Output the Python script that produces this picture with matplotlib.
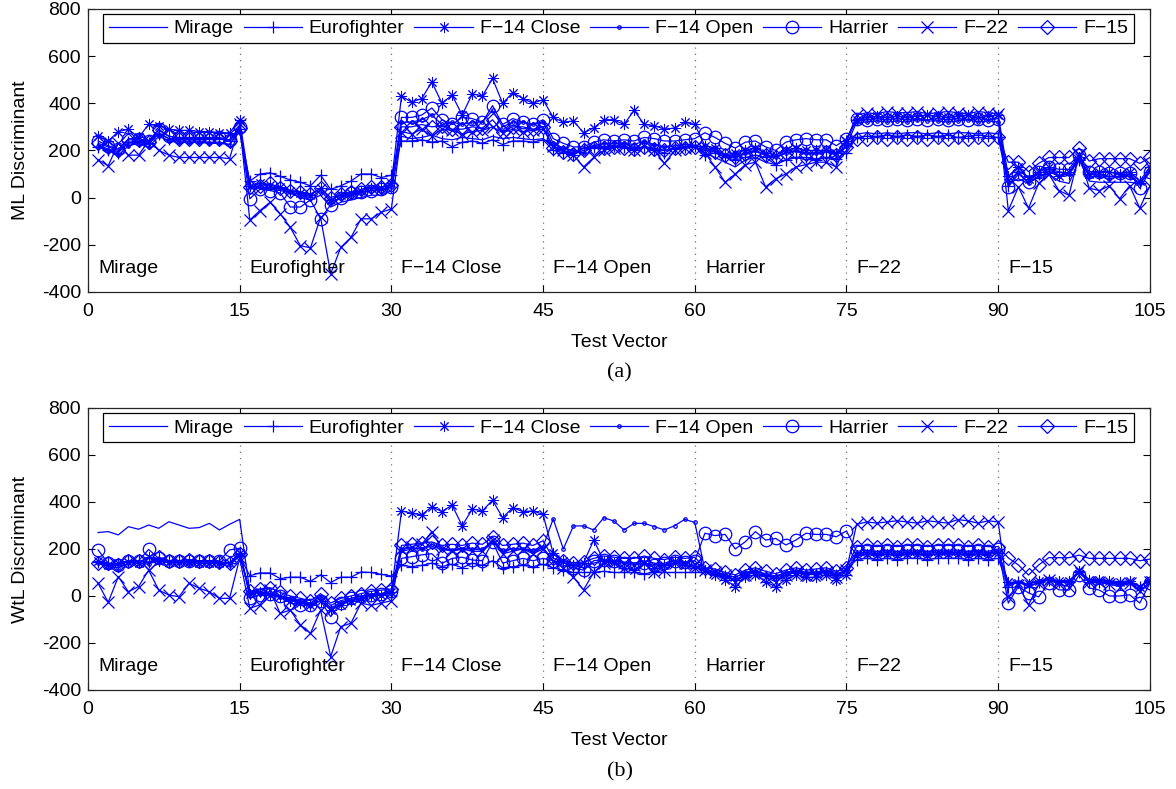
import matplotlib.pyplot as plt

plt.rcParams["font.family"] = ["Liberation Sans", "DejaVu Sans"]
plt.rcParams["axes.unicode_minus"] = False

CLASSES = ["Mirage", "Eurofighter", "F\u221214 Close", "F\u221214 Open",
           "Harrier", "F\u221222", "F\u221215"]
# MATLAB style markers; (8, 2, 0) is an eight-armed asterisk like MATLAB's '*'
MARKERS = ["None", "+", (8, 2, 0), ".", "o", "x", "D"]
test_vector = list(range(1, 106))
segment_edges = [15, 30, 45, 60, 75, 90]
segment_starts = [1, 16, 31, 46, 61, 76, 91]

# ---- (a) ML discriminant, one value per test vector ----
ml_mirage = [
    225, 205, 195, 230, 235, 225, 275, 250, 240, 240, 240, 235, 235, 225, 290,
    40, 40, 35, 30, 20, 0, -10, 10, -40, -20, -10, 0, 10, 10, 30,
    260, 250, 255, 265, 250, 245, 255, 250, 245, 260, 250, 255, 250, 245, 250,
    215, 200, 190, 210, 220, 215, 220, 210, 205, 215, 210, 200, 205, 210, 215,
    190, 170, 150, 130, 160, 170, 150, 140, 160, 170, 160, 165, 170, 160, 200,
    270, 275, 270, 275, 270, 275, 275, 270, 275, 270, 275, 275, 270, 275, 270,
    60, 80, 60, 90, 100, 70, 60, 160, 70, 65, 65, 65, 65, 60, 110,
]
ml_eurofighter = [
    215, 200, 190, 235, 240, 230, 270, 250, 250, 250, 250, 250, 250, 240, 290,
    70, 100, 105, 90, 75, 65, 50, 95, 35, 50, 70, 100, 100, 85, 95,
    240, 240, 245, 235, 240, 215, 235, 240, 230, 245, 225, 240, 240, 235, 245,
    200, 190, 180, 210, 215, 210, 220, 215, 200, 215, 200, 190, 210, 215, 220,
    180, 190, 170, 160, 170, 180, 170, 140, 160, 170, 170, 160, 170, 165, 190,
    255, 260, 260, 265, 260, 265, 260, 265, 260, 265, 255, 260, 265, 260, 255,
    50, 110, 90, 100, 120, 110, 100, 160, 100, 100, 90, 90, 100, 60, 110,
]
ml_f14_close = [
    260, 240, 280, 290, 255, 310, 305, 290, 285, 285, 280, 280, 275, 275, 330,
    50, 60, 55, 45, 30, 20, 10, 40, -10, 10, 20, 30, 40, 40, 60,
    430, 405, 420, 490, 400, 435, 350, 440, 430, 505, 400, 445, 420, 400, 415,
    340, 320, 325, 275, 295, 330, 330, 310, 370, 310, 305, 290, 295, 320, 310,
    220, 210, 180, 190, 200, 210, 190, 180, 200, 210, 200, 200, 200, 190, 240,
    330, 340, 345, 340, 345, 340, 345, 350, 345, 340, 345, 350, 340, 345, 350,
    90, 130, 80, 110, 130, 90, 110, 170, 100, 110, 110, 100, 110, 70, 130,
]
ml_f14_open = [
    220, 200, 180, 220, 230, 215, 260, 240, 235, 235, 235, 230, 230, 225, 280,
    45, 45, 40, 40, 25, 10, 0, 30, -20, 0, 10, 20, 30, 30, 45,
    320, 320, 330, 350, 310, 320, 310, 320, 320, 370, 300, 320, 320, 310, 320,
    230, 210, 200, 190, 220, 230, 230, 230, 225, 240, 225, 215, 220, 225, 220,
    210, 200, 180, 170, 190, 200, 180, 170, 190, 200, 190, 190, 200, 180, 220,
    320, 320, 325, 320, 325, 320, 330, 325, 325, 320, 325, 330, 320, 325, 320,
    70, 110, 60, 90, 110, 90, 100, 170, 90, 90, 80, 90, 90, 60, 120,
]
ml_harrier = [
    240, 220, 205, 250, 250, 240, 290, 260, 255, 255, 255, 255, 255, 245, 300,
    -5, 35, 30, 20, -40, -40, -10, -90, -30, 0, 20, 25, 30, 35, 45,
    340, 340, 350, 380, 330, 310, 340, 335, 320, 390, 310, 335, 320, 310, 330,
    250, 230, 215, 215, 235, 245, 240, 245, 240, 255, 250, 240, 240, 245, 250,
    275, 255, 230, 210, 235, 240, 215, 200, 235, 245, 250, 245, 245, 220, 250,
    335, 330, 335, 330, 335, 330, 335, 330, 335, 330, 335, 330, 335, 330, 335,
    45, 100, 65, 110, 130, 120, 120, 180, 110, 110, 105, 105, 105, 40, 110,
]
ml_f22 = [
    160, 135, 230, 180, 180, 240, 200, 180, 170, 170, 170, 170, 170, 165, 310,
    -95, -55, -20, -68, -126, -204, -213, -84, -323, -211, -169, -90, -90, -62, -48,
    280, 270, 290, 260, 290, 285, 270, 280, 285, 300, 275, 290, 280, 285, 290,
    220, 200, 180, 130, 170, 200, 210, 220, 200, 220, 200, 145, 200, 210, 215,
    190, 130, 65, 100, 140, 150, 45, 80, 100, 130, 140, 150, 150, 130, 240,
    350, 360, 355, 365, 360, 360, 365, 355, 360, 365, 360, 355, 365, 360, 355,
    -55, 45, -45, 60, 100, 30, 10, 185, 40, 30, 50, -5, 50, -45, 50,
]
ml_f15 = [
    230, 215, 200, 245, 245, 235, 285, 260, 250, 250, 250, 250, 250, 240, 295,
    45, 50, 60, 40, 30, 25, 15, 40, 0, 15, 25, 35, 45, 45, 55,
    300, 300, 310, 300, 305, 290, 290, 300, 295, 330, 280, 300, 300, 290, 300,
    210, 195, 185, 200, 210, 210, 215, 210, 205, 215, 205, 200, 210, 210, 215,
    200, 195, 180, 170, 185, 195, 180, 170, 190, 195, 185, 185, 195, 180, 215,
    250, 250, 255, 250, 255, 250, 255, 250, 255, 250, 255, 250, 255, 250, 255,
    150, 150, 110, 145, 170, 170, 170, 210, 155, 165, 165, 165, 165, 145, 170,
]

# ---- (b) WtL discriminant ----
wtl_mirage = [
    270, 274, 260, 295, 284, 302, 288, 316, 302, 288, 291, 309, 281, 305, 326,
    20, 20, 10, 0, -10, -20, -30, 0, -40, -20, -10, 0, 10, 10, 20,
    190, 200, 205, 210, 200, 195, 205, 200, 195, 230, 190, 200, 200, 190, 205,
    150, 140, 130, 120, 140, 150, 150, 145, 140, 150, 140, 130, 140, 140, 150,
    110, 100, 90, 80, 100, 110, 90, 80, 100, 110, 100, 100, 110, 100, 130,
    185, 185, 190, 185, 190, 185, 190, 190, 185, 190, 185, 190, 190, 185, 190,
    50, 60, 40, 55, 70, 60, 60, 100, 60, 60, 55, 50, 55, 40, 70,
]
wtl_eurofighter = [
    145, 140, 130, 150, 150, 145, 160, 150, 150, 150, 150, 150, 145, 140, 170,
    86, 98, 98, 74, 80, 80, 62, 90, 57, 80, 80, 102, 100, 92, 85,
    130, 125, 130, 140, 125, 135, 120, 140, 130, 150, 120, 125, 130, 125, 135,
    120, 110, 100, 100, 100, 105, 100, 100, 100, 95, 100, 100, 100, 100, 100,
    100, 95, 85, 70, 90, 100, 85, 75, 90, 100, 95, 95, 100, 90, 110,
    155, 160, 155, 160, 155, 160, 160, 155, 160, 160, 160, 155, 160, 155, 160,
    40, 60, 40, 60, 70, 60, 60, 100, 60, 60, 55, 50, 55, 40, 65,
]
wtl_f14_close = [
    150, 130, 140, 145, 140, 165, 150, 145, 145, 145, 140, 140, 140, 140, 185,
    10, 15, 5, 0, -20, -30, -40, -20, -60, -40, -20, -10, 0, 5, 15,
    362, 352, 345, 380, 359, 387, 299, 370, 362, 408, 333, 376, 359, 362, 347,
    181, 150, 130, 140, 238, 150, 140, 120, 110, 140, 120, 130, 150, 130, 120,
    110, 90, 70, 40, 80, 90, 60, 40, 70, 90, 80, 80, 90, 70, 90,
    175, 180, 175, 180, 175, 180, 180, 175, 180, 180, 180, 175, 180, 175, 185,
    60, 55, 50, 65, 70, 65, 65, 105, 70, 70, 65, 60, 65, 40, 70,
]
wtl_f14_open = [
    140, 125, 120, 140, 140, 135, 155, 140, 140, 140, 140, 140, 135, 130, 170,
    15, 10, 5, -5, -15, -25, -35, -10, -50, -30, -20, -10, 0, 5, 15,
    200, 205, 200, 220, 205, 195, 200, 200, 200, 230, 195, 200, 200, 195, 210,
    328, 200, 298, 298, 281, 333, 319, 281, 309, 309, 295, 281, 299, 326, 313,
    110, 105, 90, 80, 100, 105, 95, 85, 100, 105, 100, 100, 105, 95, 110,
    180, 185, 180, 185, 180, 185, 185, 180, 185, 185, 185, 180, 185, 180, 190,
    55, 60, 50, 65, 70, 60, 65, 100, 65, 65, 60, 55, 60, 40, 65,
]
wtl_harrier = [
    196, 139, 130, 150, 150, 198, 160, 150, 150, 150, 150, 150, 150, 196, 203,
    -10, 5, 10, 0, -30, -40, -40, -20, -88, -30, -10, 0, 5, 10, 20,
    160, 167, 175, 180, 139, 160, 165, 153, 150, 230, 140, 150, 160, 150, 160,
    150, 130, 120, 110, 150, 155, 150, 140, 140, 140, 130, 140, 150, 145, 150,
    267, 257, 262, 200, 231, 274, 238, 245, 217, 238, 267, 262, 262, 252, 277,
    190, 195, 190, 195, 190, 195, 195, 190, 195, 195, 195, 190, 195, 190, 200,
    -30, 40, 13, -4, 55, 26, 25, 89, 34, 25, 0, 0, 5, -30, 55,
]
wtl_f22 = [
    54, -27, 82, 18, 40, 110, 25, 4, -3, 54, 33, 18, -10, -10, 160,
    -52, -38, 25, -74, -60, -123, -159, -60, -258, -130, -116, -30, -40, -30, -20,
    200, 210, 220, 274, 200, 190, 200, 190, 190, 240, 180, 190, 200, 180, 200,
    150, 120, 80, 26, 100, 140, 150, 140, 130, 140, 100, 110, 140, 140, 130,
    110, 100, 90, 60, 90, 100, 80, 60, 90, 100, 90, 95, 100, 80, 110,
    305, 315, 310, 315, 320, 315, 310, 320, 315, 310, 325, 320, 310, 320, 315,
    -4, 47, -38, 50, 70, 50, 40, 111, 60, 60, 50, 40, 55, 20, 60,
]
wtl_f15 = [
    140, 140, 130, 150, 150, 140, 165, 150, 150, 155, 150, 150, 145, 140, 180,
    20, 30, 35, 15, 0, -10, -20, 10, -30, -10, 0, 10, 20, 25, 30,
    215, 220, 225, 230, 215, 220, 215, 225, 220, 250, 215, 220, 225, 215, 235,
    160, 150, 140, 145, 160, 170, 165, 160, 160, 170, 160, 155, 165, 160, 165,
    120, 115, 100, 90, 110, 120, 105, 95, 110, 120, 110, 115, 120, 105, 120,
    210, 215, 210, 215, 210, 215, 215, 210, 215, 215, 215, 210, 215, 210, 210,
    162, 132, 89, 132, 163, 163, 163, 174, 160, 160, 160, 160, 160, 150, 157,
]

ml_series = [ml_mirage, ml_eurofighter, ml_f14_close, ml_f14_open,
             ml_harrier, ml_f22, ml_f15]
wtl_series = [wtl_mirage, wtl_eurofighter, wtl_f14_close, wtl_f14_open,
              wtl_harrier, wtl_f22, wtl_f15]

BLUE = "#0000ff"
FS = 14


def draw_panel(ax, series, ylabel):
    for edge in segment_edges:
        ax.axvline(edge, color="0.45", linestyle=(0, (1, 4)), linewidth=0.9, zorder=1)
    for name, marker, values in zip(CLASSES, MARKERS, series):
        size, mew = 9, 0.9
        if marker == ".":
            size = 5
        elif marker == "D":
            size = 7
        elif isinstance(marker, tuple):
            size, mew = 8, 0.7
        ax.plot(test_vector, values, color=BLUE, linewidth=0.9, marker=marker,
                markersize=size, markerfacecolor="none", markeredgecolor=BLUE,
                markeredgewidth=mew, label=name, zorder=2)
    for start, name in zip(segment_starts, CLASSES):
        ax.text(start, -300, name, fontsize=FS, va="center", ha="left")
    ax.set_xlim(0, 105)
    ax.set_ylim(-400, 800)
    ax.set_xticks(range(0, 106, 15))
    ax.set_yticks(range(-400, 801, 200))
    ax.tick_params(direction="in", top=True, right=True, length=5,
                   labelsize=FS, width=0.8)
    ax.tick_params(axis="x", pad=8)
    ax.tick_params(axis="y", pad=5)
    for sp in ax.spines.values():
        sp.set_linewidth(0.9)
        sp.set_color("0.15")
    ax.set_xlabel("Test Vector", fontsize=FS, labelpad=10)
    ax.set_ylabel(ylabel, fontsize=FS, labelpad=9)
    leg = ax.legend(loc="upper left", bbox_to_anchor=(0.014, 0.982), ncol=7,
                    borderaxespad=0, fontsize=FS, handlelength=3.0,
                    handletextpad=0.35, columnspacing=0.5, borderpad=0.3,
                    fancybox=False, framealpha=1)
    leg.get_frame().set_edgecolor("black")
    leg.get_frame().set_linewidth(0.9)


fig = plt.figure(figsize=(11.76, 7.89), dpi=100)
ax_a = fig.add_axes([0.0748, 0.630, 0.903, 0.3587])
ax_b = fig.add_axes([0.0748, 0.1255, 0.903, 0.3574])

draw_panel(ax_a, ml_series, "ML Discriminant")
draw_panel(ax_b, wtl_series, "WtL Discriminant")

fig.text(0.527, 0.527, "(a)", ha="center", va="center", fontsize=16,
         family=["Liberation Serif", "DejaVu Serif"])
fig.text(0.527, 0.022, "(b)", ha="center", va="center", fontsize=16,
         family=["Liberation Serif", "DejaVu Serif"])

fig.savefig("out.png", dpi=100)
